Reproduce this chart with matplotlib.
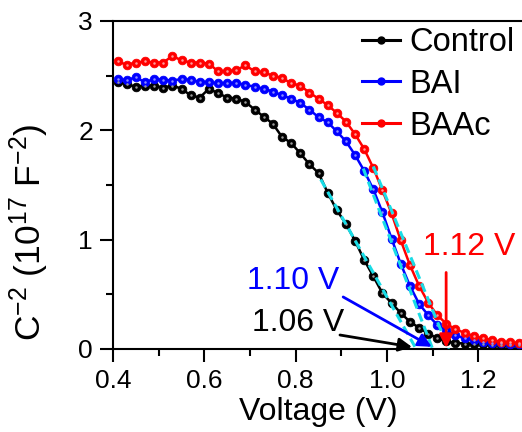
import matplotlib
matplotlib.use('Agg')
import matplotlib.pyplot as plt
from matplotlib.lines import Line2D

plt.rcParams['font.family'] = ['Liberation Sans', 'DejaVu Sans']
plt.rcParams['mathtext.fontset'] = 'custom'
plt.rcParams['mathtext.rm'] = 'Liberation Sans'
plt.rcParams['mathtext.default'] = 'regular'

voltage = [0.41, 0.43, 0.45, 0.47, 0.49, 0.51, 0.53, 0.55, 0.57, 0.59,
           0.61, 0.63, 0.65, 0.67, 0.69, 0.71, 0.73, 0.75, 0.77, 0.79,
           0.81, 0.83, 0.85, 0.87, 0.89, 0.91, 0.93, 0.95, 0.97, 0.99,
           1.01, 1.03, 1.05, 1.07, 1.09, 1.11, 1.13, 1.15, 1.17, 1.19,
           1.21, 1.23, 1.25, 1.27, 1.29]

control = [2.445, 2.42, 2.40, 2.41, 2.41, 2.39, 2.41, 2.38, 2.32, 2.30,
           2.38, 2.34, 2.30, 2.29, 2.26, 2.19, 2.125, 2.06, 1.94, 1.885,
           1.79, 1.69, 1.61, 1.43, 1.27, 1.145, 0.99, 0.815, 0.665, 0.51,
           0.42, 0.33, 0.25, 0.195, 0.14, 0.10, 0.07, 0.055, 0.05, 0.046,
           0.043, 0.041, 0.04, 0.038, 0.037]

bai = [2.47, 2.46, 2.485, 2.44, 2.47, 2.46, 2.455, 2.47, 2.46, 2.445,
       2.44, 2.43, 2.43, 2.435, 2.415, 2.40, 2.38, 2.355, 2.32, 2.29,
       2.25, 2.19, 2.12, 2.075, 1.99, 1.90, 1.775, 1.63, 1.46, 1.25,
       1.01, 0.78, 0.58, 0.415, 0.31, 0.22, 0.17, 0.127, 0.097, 0.082,
       0.066, 0.058, 0.052, 0.046, 0.043]

baac = [2.63, 2.60, 2.62, 2.63, 2.62, 2.62, 2.68, 2.64, 2.62, 2.62,
        2.61, 2.54, 2.54, 2.55, 2.595, 2.54, 2.53, 2.50, 2.48, 2.43,
        2.41, 2.345, 2.29, 2.23, 2.16, 2.08, 1.965, 1.83, 1.655, 1.45,
        1.24, 0.995, 0.77, 0.58, 0.425, 0.31, 0.23, 0.18, 0.148, 0.118,
        0.097, 0.082, 0.066, 0.06, 0.052]

# linear fits (start point, x-intercept)
fit_control = ([0.855, 1.064], [1.55, 0.0])
fit_bai = ([0.948, 1.100], [1.65, 0.0])
fit_baac = ([0.970, 1.135], [1.67, 0.0])

series = [('Control', control, 'black', '#9a9a9a'),
          ('BAI', bai, '#0000ff', '#8c8cff'),
          ('BAAc', baac, '#ff0000', '#ff9a9a')]

fig = plt.figure(figsize=(5.22, 4.32), dpi=100)
ax = fig.add_axes([113 / 522, 83 / 432, 411 / 522, 328 / 432])

for name, vals, col, light in series:
    ax.plot(voltage, vals, '-o', color=col, lw=1.8, ms=6.2, mec=col, mew=0.6, zorder=3)
    ax.plot(voltage, vals, 'o', color=light, ms=1.8, mew=0, zorder=3.5)

for fx, fy in [fit_control, fit_bai, fit_baac]:
    ax.plot(fx, fy, '--', color='#19dce6', lw=2.2, dashes=(3, 1.6), zorder=4)

ax.set_xlim(0.4, 1.3)
ax.set_ylim(0, 3)
ax.set_xticks([0.4, 0.6, 0.8, 1.0, 1.2])
ax.set_xticks([0.5, 0.7, 0.9, 1.1, 1.3], minor=True)
ax.set_yticks([0, 1, 2, 3])
ax.set_yticks([0.5, 1.5, 2.5], minor=True)
ax.tick_params(which='major', direction='out', length=9.4, width=1.5, labelsize=19, pad=5)
ax.tick_params(which='minor', direction='out', length=5, width=1.5)
for s in ax.spines.values():
    s.set_linewidth(1.5)

ax.set_xlabel('Voltage (V)', fontsize=23, labelpad=3)
ax.set_ylabel('C$^{-2}$ (10$^{17}$ F$^{-2}$)', fontsize=25.5)
ax.yaxis.set_label_coords(-0.15, 0.355)

# Vbi annotations
ax.annotate('', xy=(1.1295, 0.01), xytext=(1.1295, 0.70),
            arrowprops=dict(arrowstyle='-|>', color='red', lw=2, mutation_scale=20,
                            shrinkA=0, shrinkB=0), zorder=5)
ax.text(1.18, 0.93, '1.12 V', color='red', fontsize=23, ha='center', va='center')
ax.annotate('', xy=(1.098, 0.02), xytext=(0.904, 0.476),
            arrowprops=dict(arrowstyle='-|>', color='#0000ff', lw=2, mutation_scale=20,
                            shrinkA=0, shrinkB=0), zorder=5)
ax.text(0.795, 0.62, '1.10 V', color='#0000ff', fontsize=23, ha='center', va='center')
ax.annotate('', xy=(1.055, 0.018), xytext=(0.897, 0.128),
            arrowprops=dict(arrowstyle='-|>', color='black', lw=2, mutation_scale=20,
                            shrinkA=0, shrinkB=0), zorder=5)
ax.text(0.806, 0.234, '1.06 V', color='black', fontsize=23, ha='center', va='center')

handles = [Line2D([], [], color=c, lw=2.2, marker='o', ms=5, label=n) for n, _, c, _ in series]
fig.legend(handles=handles, loc='upper left', bbox_to_anchor=(362 / 522, 1 - 27 / 432),
           frameon=False, fontsize=23.5, handlelength=1.15, handletextpad=0.3,
           labelspacing=0.33, borderpad=0, borderaxespad=0)

fig.savefig('out.png', dpi=100)
